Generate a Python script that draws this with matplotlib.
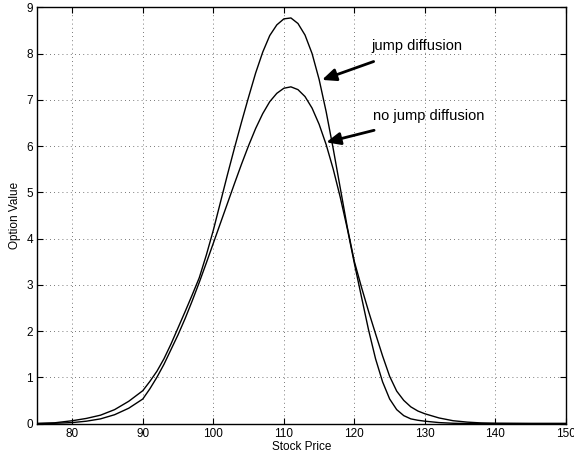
import numpy as np
import matplotlib.pyplot as plt

plt.rcParams['font.family'] = ['Liberation Sans', 'DejaVu Sans']

# stock price grid and option values
price = [75, 77.5, 80, 82, 84, 86, 88, 90, 91, 92, 93, 94, 95, 96, 97, 98, 99,
         100, 101, 102, 103, 104, 105, 106, 107, 108, 109, 110, 111, 112, 113,
         114, 115, 116, 117, 118, 119, 120, 121, 122, 123, 124, 125, 126, 127,
         128, 129, 130, 132, 134, 136, 138, 140, 145, 150]

jump = [0.0, 0.015, 0.06, 0.11, 0.18, 0.30, 0.48, 0.71, 0.91, 1.13, 1.40, 1.72,
        2.07, 2.42, 2.78, 3.15, 3.64, 4.18, 4.78, 5.38, 5.96, 6.52, 7.06, 7.58,
        8.03, 8.39, 8.62, 8.75, 8.77, 8.65, 8.40, 8.00, 7.44, 6.74, 5.94, 5.09,
        4.24, 3.50, 2.95, 2.43, 1.94, 1.46, 1.02, 0.70, 0.50, 0.36, 0.27, 0.21,
        0.12, 0.06, 0.03, 0.012, 0.005, 0.0, 0.0]

no_jump = [0.0, 0.005, 0.02, 0.05, 0.10, 0.19, 0.33, 0.53, 0.75, 1.00, 1.28,
           1.60, 1.92, 2.27, 2.65, 3.05, 3.47, 3.90, 4.33, 4.76, 5.19, 5.61,
           6.01, 6.38, 6.70, 6.96, 7.14, 7.25, 7.28, 7.22, 7.07, 6.82, 6.47,
           6.03, 5.50, 4.89, 4.21, 3.46, 2.74, 2.03, 1.40, 0.90, 0.53, 0.30,
           0.17, 0.10, 0.07, 0.05, 0.02, 0.005, 0.0, 0.0, 0.0, 0.0, 0.0]

fig = plt.figure(figsize=(5.74, 4.57), dpi=100)
ax = fig.add_axes([0.0645, 0.0733, 0.9215, 0.9107])

ax.plot(price, jump, color='black', lw=1.0)
ax.plot(price, no_jump, color='black', lw=1.0)

ax.set_xlim(75, 150)
ax.set_ylim(0, 9)
ax.set_xticks(np.arange(80, 151, 10))
ax.set_yticks(np.arange(0, 10, 1))
ax.grid(True, linestyle=(0, (1, 4)), color='black', lw=0.6, alpha=0.7)
ax.tick_params(direction='in', top=True, right=True, labelsize=8.5,
               length=4, width=0.8, pad=3)
for s in ax.spines.values():
    s.set_linewidth(1.0)

ax.set_xlabel('Stock Price', fontsize=8.5, labelpad=1)
ax.set_ylabel('Option Value', fontsize=8.5, labelpad=4)

arrow = dict(arrowstyle='-|>,head_length=0.8,head_width=0.35', color='black',
             lw=2.0, shrinkA=12, shrinkB=0)
ax.annotate('jump diffusion', xy=(115.4, 7.43), xytext=(122.4, 8.16),
            fontsize=10.5, va='center', ha='left', arrowprops=arrow)
ax.annotate('no jump diffusion', xy=(116.0, 6.08), xytext=(122.7, 6.64),
            fontsize=10.5, va='center', ha='left', arrowprops=arrow)

fig.savefig('out.png', dpi=100)
